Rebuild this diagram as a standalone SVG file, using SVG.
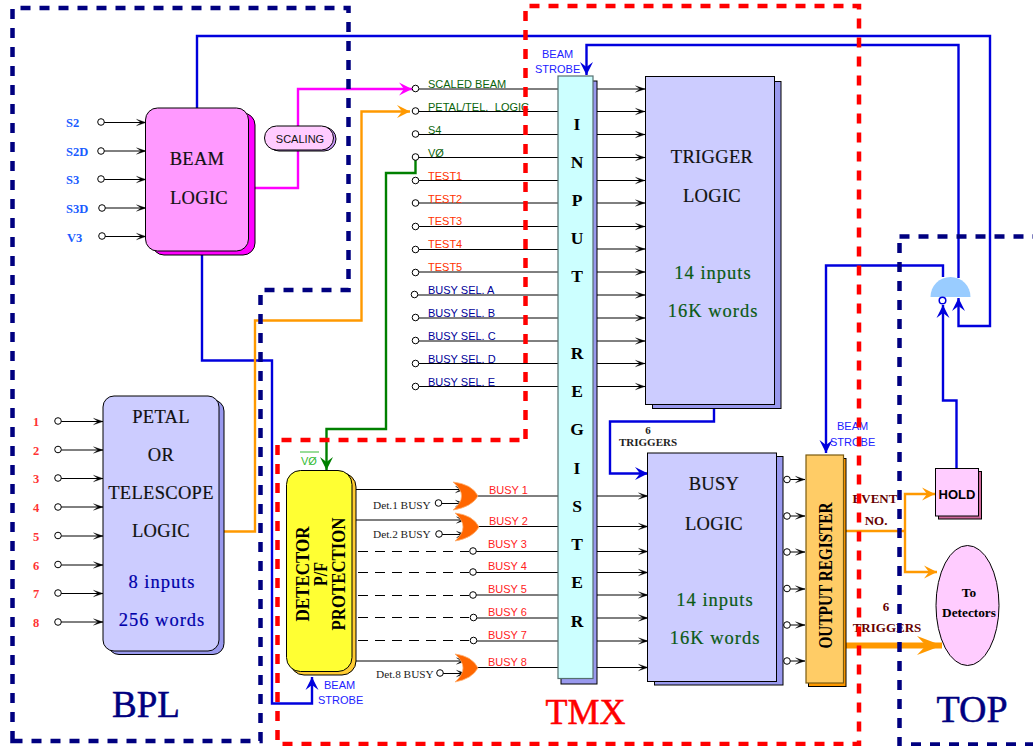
<svg xmlns="http://www.w3.org/2000/svg" width="1033" height="746" viewBox="0 0 1033 746">
<defs>
<marker id="a" markerUnits="userSpaceOnUse" markerWidth="14" markerHeight="10" refX="12" refY="5" orient="auto"><path d="M2.500,1.800 L12,5 L2.500,8.200 L7,5z" fill="#000" stroke="#000" stroke-width=".3"/></marker>
<marker id="ab" markerUnits="userSpaceOnUse" markerWidth="18" markerHeight="18" refX="16" refY="9" orient="auto"><path d="M3,2.500 L16,9 L3,15.500 L8,9z" fill="#0000dd"/></marker>
<marker id="ao" markerUnits="userSpaceOnUse" markerWidth="18" markerHeight="18" refX="16" refY="9" orient="auto"><path d="M3,2.500 L16,9 L3,15.500 L8,9z" fill="#ff9900"/></marker>
<marker id="am" markerUnits="userSpaceOnUse" markerWidth="18" markerHeight="18" refX="16" refY="9" orient="auto"><path d="M3,2.500 L16,9 L3,15.500 L8,9z" fill="#ff00ff"/></marker>
<marker id="ag" markerUnits="userSpaceOnUse" markerWidth="18" markerHeight="18" refX="16" refY="9" orient="auto"><path d="M3,2.500 L16,9 L3,15.500 L8,9z" fill="#008000"/></marker>
<marker id="abig" markerUnits="userSpaceOnUse" markerWidth="30" markerHeight="24" refX="28" refY="12" orient="auto"><path d="M3,2.500 L28,12 L3,21.500 L12,12z" fill="#ff9900"/></marker>
</defs>
<style>
.t{fill:none;stroke:#000;stroke-width:1}
.ar{marker-end:url(#a)}
.d{stroke-dasharray:10 7}
.c{fill:#fff;stroke:#000;stroke-width:1}
.b{fill:none;stroke:#0000dd;stroke-width:2.4}
.o{fill:none;stroke:#ff9900;stroke-width:2.4}
.box{stroke:#000;stroke-width:1}
.or{fill:#ff6600;stroke:#ffb070;stroke-width:.8}
text{font-family:"Liberation Serif",serif}
.s{font-family:"Liberation Sans",sans-serif;font-size:11px}
.m{text-anchor:middle}
.big{font-size:18.5px;fill:#111;stroke:#111;stroke-width:.2;text-anchor:middle;letter-spacing:.3px}
.gn{font-size:18.5px;fill:#0a5a14;stroke:#0a5a14;stroke-width:.2;text-anchor:middle;letter-spacing:1px}
.bn{font-size:18.5px;fill:#0000aa;stroke:#0000aa;stroke-width:.2;text-anchor:middle;letter-spacing:1px}
.sl{font-weight:bold;font-size:12.5px;fill:#1a5cff}
.num{font-weight:bold;font-size:12.5px;fill:#ff3333}
.lt{font-weight:bold;font-size:17.5px;fill:#000;text-anchor:middle}
.g{fill:#0a640a}.r{fill:#ff3300}.n{fill:#000099}.bs{fill:#ff2222}
.st{fill:#2222ff}
.det{font-size:11.300px;fill:#222}
.mr{font-weight:bold;font-size:13px;fill:#660000;text-anchor:middle}
.fr{text-anchor:middle;stroke-width:.5}
.blf{fill:none;stroke:#000080;stroke-width:4.5;stroke-dasharray:10 9}
.rdf{fill:none;stroke:#ff0000;stroke-width:4.5;stroke-dasharray:10 9}
.rot{font-weight:bold;text-anchor:middle}
</style>

<g id="connectors">
<path class="b" d="M197,108V36H990V326H958.500V298" marker-end="url(#ab)"/>
<path class="b" d="M958.500,278V45H586.500V75" marker-end="url(#ab)"/>
<path class="b" d="M943,277V265.500H826V453" marker-end="url(#ab)"/>
<path class="b" d="M956.500,468V400.500H943V305" marker-end="url(#ab)"/>
<path class="b" d="M202,254V360.500H272V703.500H312V677" marker-end="url(#ab)"/>
<path class="b" d="M714,408V421.500H610V473.500H648" marker-end="url(#ab)"/>
<path d="M255,188H298V89H412" fill="none" stroke="#ff00ff" stroke-width="2.400" marker-end="url(#am)"/>
<path class="o" d="M224,531.500H255V320.500H361.500V111.500H410" marker-end="url(#ao)"/>
<path d="M415.500,160V173H386V429H326.500V470" fill="none" stroke="#008000" stroke-width="2.400" marker-end="url(#ag)"/>
<path class="o" d="M846,531H905"/>
<path class="o" d="M905,531V494H935" marker-end="url(#ao)"/>
<path class="o" d="M905,531V572H937" marker-end="url(#ao)"/>
<path d="M846,645.500H942" fill="none" stroke="#ff9900" stroke-width="6" marker-end="url(#abig)"/>

<g id="beam-inputs">
<path class="t ar" d="M104,122.500H146"/><path class="t ar" d="M104,151H146"/><path class="t ar" d="M104,179.500H146"/><path class="t ar" d="M105,208H146"/><path class="t ar" d="M105,236.500H146"/>
</g>
<g id="petal-inputs">
<path class="t ar" d="M61,421.500H103"/><path class="t ar" d="M61,450H103"/><path class="t ar" d="M61,478.500H103"/><path class="t ar" d="M61,507H103"/><path class="t ar" d="M61,536H103"/><path class="t ar" d="M61,565H103"/><path class="t ar" d="M61,593.500H103"/><path class="t ar" d="M61,622H103"/>
</g>
<g id="register-inputs">
<path class="t" d="M419,89H558"/><path class="t" d="M419,111.500H558"/><path class="t" d="M419,134.500H558"/><path class="t" d="M419,157.500H558"/><path class="t" d="M419,180.500H558"/><path class="t" d="M419,203H558"/><path class="t" d="M419,226.500H558"/><path class="t" d="M419,249.500H558"/><path class="t" d="M419,272H558"/><path class="t" d="M418,295H558"/><path class="t" d="M419,318H558"/><path class="t" d="M419,341H558"/><path class="t" d="M419,363.500H558"/><path class="t" d="M419,386.500H558"/>
</g>
<g id="trigger-inputs">
<path class="t ar" d="M597,89H645"/><path class="t ar" d="M597,111.500H645"/><path class="t ar" d="M597,134.500H645"/><path class="t ar" d="M597,157.500H645"/><path class="t ar" d="M597,180.500H645"/><path class="t ar" d="M597,203H645"/><path class="t ar" d="M597,226.500H645"/><path class="t ar" d="M597,249H645"/><path class="t ar" d="M597,272H645"/><path class="t ar" d="M597,295H645"/><path class="t ar" d="M597,318H645"/><path class="t ar" d="M597,341H645"/><path class="t ar" d="M597,363.500H645"/><path class="t ar" d="M597,386.500H645"/>
</g>
<g id="busy-inputs">
<path class="t ar" d="M597,496H648"/><path class="t ar" d="M597,526.500H648"/><path class="t ar" d="M597,551.500H648"/><path class="t ar" d="M597,572.500H648"/><path class="t ar" d="M597,595H648"/><path class="t ar" d="M597,618H648"/><path class="t ar" d="M597,641H648"/><path class="t ar" d="M597,667.500H648"/>
</g>
<g id="busy-lines">
<path class="t" d="M477,496H558"/><path class="t" d="M478,526.500H558"/><path class="t" d="M476,551.500H558"/><path class="t" d="M476,572.500H558"/><path class="t" d="M476,595H558"/><path class="t" d="M477,618H558"/><path class="t" d="M477,641H558"/><path class="t" d="M477,667.500H558"/>
<path class="t d" d="M358,551.500H469"/><path class="t d" d="M358,572.500H469"/><path class="t d" d="M358,595.500H469"/><path class="t d" d="M358,617.500H469"/><path class="t d" d="M358,640.500H469"/>
<path class="t ar" d="M356,489.500H465"/><path class="t ar" d="M442,503.500H465"/><path class="t ar" d="M356,520H466"/><path class="t ar" d="M442,534.500H466"/><path class="t ar" d="M356,661H466"/><path class="t ar" d="M443,673.500H466"/>
</g>
<g id="output-inputs">
<path class="t ar" d="M790,479.500H805"/><path class="t ar" d="M790,516H805"/><path class="t ar" d="M790,552H805"/><path class="t ar" d="M790,589H805"/><path class="t ar" d="M790,625H805"/><path class="t ar" d="M790,661H805"/>
</g>
</g>

<g id="terminals">
<circle class="c" cx="101" cy="122" r="3.300"/><circle class="c" cx="101" cy="151" r="3.300"/><circle class="c" cx="101" cy="179" r="3.300"/><circle class="c" cx="102" cy="208" r="3.300"/><circle class="c" cx="102" cy="236" r="3.300"/>
<circle class="c" cx="58" cy="421" r="3.300"/><circle class="c" cx="58" cy="449.500" r="3.300"/><circle class="c" cx="58" cy="478" r="3.300"/><circle class="c" cx="58" cy="507" r="3.300"/><circle class="c" cx="58" cy="535.500" r="3.300"/><circle class="c" cx="58" cy="564.500" r="3.300"/><circle class="c" cx="58" cy="593" r="3.300"/><circle class="c" cx="58" cy="622" r="3.300"/>
<circle class="c" cx="415.500" cy="88.500" r="3.300"/><circle class="c" cx="415.500" cy="111" r="3.300"/><circle class="c" cx="415.500" cy="134" r="3.300"/><circle class="c" cx="415.500" cy="157" r="3.300"/><circle class="c" cx="415.500" cy="180.500" r="3.300"/><circle class="c" cx="415.500" cy="203" r="3.300"/><circle class="c" cx="415.500" cy="226.500" r="3.300"/><circle class="c" cx="415.500" cy="249.500" r="3.300"/><circle class="c" cx="415.500" cy="272.500" r="3.300"/><circle class="c" cx="414.500" cy="294.500" r="3.300"/><circle class="c" cx="415.500" cy="317.500" r="3.300"/><circle class="c" cx="415.500" cy="340.500" r="3.300"/><circle class="c" cx="415.500" cy="363.500" r="3.300"/><circle class="c" cx="415.500" cy="386.500" r="3.300"/>
<circle class="c" cx="438.500" cy="503" r="3.300"/><circle class="c" cx="439" cy="534" r="3.300"/><circle class="c" cx="440" cy="673" r="3.300"/>
<circle class="c" cx="473" cy="551" r="3.300"/><circle class="c" cx="473" cy="572" r="3.300"/><circle class="c" cx="473" cy="595" r="3.300"/><circle class="c" cx="473.500" cy="617.500" r="3.300"/><circle class="c" cx="473.500" cy="640.500" r="3.300"/>
<circle class="c" cx="787" cy="479.500" r="3.300"/><circle class="c" cx="787" cy="516" r="3.300"/><circle class="c" cx="787" cy="552" r="3.300"/><circle class="c" cx="787" cy="588.500" r="3.300"/><circle class="c" cx="787" cy="625" r="3.300"/><circle class="c" cx="787" cy="661" r="3.300"/>
</g>

<g id="or-gates">
<path class="or" d="M453,482Q472,484 478,496Q472,507 453,510Q470,496 453,482z"/>
<path class="or" d="M455,513Q473,515 479,527Q473,538 455,541Q471,527 455,513z"/>
<path class="or" d="M455,654Q472,656 478,668Q472,679 455,682Q471,668 455,654z"/>
</g>

<g id="beam-logic">
<rect class="box" x="152" y="113" width="103" height="142" rx="12" fill="#ff00ff"/>
<rect class="box" x="145.500" y="108" width="103" height="143" rx="12" fill="#ff99ff"/>
<text class="big" x="197" y="165">BEAM</text><text class="big" x="199" y="204">LOGIC</text>
</g>
<g id="scaling">
<rect class="box" x="267" y="127" width="69" height="24" rx="12" fill="#cc99ff"/>
<rect class="box" x="264.500" y="126" width="69" height="24" rx="12" fill="#ffccff"/>
<text class="s m" x="300" y="143" fill="#111">SCALING</text>
</g>
<g id="petal-logic">
<rect class="box" x="108" y="400" width="116" height="254.500" rx="11" fill="#9999ee"/>
<rect class="box" x="103" y="396" width="116" height="255" rx="11" fill="#ccccff"/>
<text class="big" x="161" y="423">PETAL</text><text class="big" x="161" y="461">OR</text><text class="big" x="161" y="499">TELESCOPE</text><text class="big" x="161" y="537">LOGIC</text>
<text class="bn" x="162" y="588">8 inputs</text><text class="bn" x="162" y="626">256 words</text>
</g>
<g id="detector">
<rect class="box" x="290" y="473" width="66" height="202" rx="14" fill="#ffcc33"/>
<rect class="box" x="286.500" y="470.500" width="65.500" height="201" rx="14" fill="#ffff33"/>
<text transform="translate(309,574) rotate(-90)" class="rot" font-size="18.500" textLength="95" lengthAdjust="spacingAndGlyphs">DETECTOR</text>
<text transform="translate(327,574) rotate(-90)" class="rot" font-size="18.500" textLength="24" lengthAdjust="spacingAndGlyphs">P/F</text>
<text transform="translate(345,574) rotate(-90)" class="rot" font-size="18.500" textLength="113" lengthAdjust="spacingAndGlyphs">PROTECTION</text>
</g>
<g id="input-register">
<rect class="box" x="561" y="81" width="36" height="603" fill="#9999ee"/>
<rect x="558" y="76" width="35" height="602.500" fill="#ccffff" stroke="#557070" stroke-width="1.200"/>
<text class="lt" x="577" y="130">I</text><text class="lt" x="577" y="168">N</text><text class="lt" x="577" y="206">P</text><text class="lt" x="577" y="244">U</text><text class="lt" x="577" y="282">T</text><text class="lt" x="577" y="359">R</text><text class="lt" x="577" y="397">E</text><text class="lt" x="577" y="435">G</text><text class="lt" x="577" y="474">I</text><text class="lt" x="577" y="512">S</text><text class="lt" x="577" y="550">T</text><text class="lt" x="577" y="588">E</text><text class="lt" x="577" y="627">R</text>
</g>
<g id="trigger-logic">
<rect class="box" x="652.500" y="81.500" width="128.500" height="327" fill="#9999ee"/>
<rect class="box" x="645.500" y="76.500" width="129" height="328" fill="#ccccff"/>
<text class="big" x="712" y="163">TRIGGER</text><text class="big" x="712" y="202">LOGIC</text>
<text class="gn" x="713" y="279">14 inputs</text><text class="gn" x="713" y="317">16K words</text>
</g>
<g id="busy-logic">
<rect class="box" x="654.500" y="456.500" width="128.500" height="228.500" fill="#9999ee"/>
<rect class="box" x="647.500" y="453" width="129" height="228.500" fill="#ccccff"/>
<text class="big" x="714" y="490">BUSY</text><text class="big" x="714" y="530">LOGIC</text>
<text class="gn" x="715" y="606">14 inputs</text><text class="gn" x="715" y="644">16K words</text>
</g>
<g id="output-register">
<rect class="box" x="808.500" y="458.500" width="37.500" height="228" fill="#ff9900"/>
<rect x="806" y="455" width="37.500" height="228" fill="#ffcc66" stroke="#7a5a10" stroke-width="1.200"/>
<text transform="translate(832,575.500) rotate(-90)" class="rot" font-size="18" textLength="146" lengthAdjust="spacingAndGlyphs">OUTPUT REGISTER</text>
</g>
<g id="gate">
<path d="M930.500,297A20,20 0 0 1 970.500,297z" fill="#99ccff"/>
<circle cx="942.500" cy="300.500" r="3.300" fill="#fff" stroke="#0000dd" stroke-width="1.500"/>
</g>
<g id="hold">
<rect class="box" x="938.500" y="471.500" width="43" height="47.500" fill="#cc6699"/>
<rect class="box" x="935.500" y="468.500" width="43" height="47.500" fill="#ffccff"/>
<text class="m" x="957" y="499" style="font-family:'Liberation Sans',sans-serif" font-weight="bold" font-size="13">HOLD</text>
</g>
<g id="to-detectors">
<ellipse class="box" cx="967.500" cy="605.500" rx="31.500" ry="60" fill="#ffccff"/>
<text class="m" x="969" y="597" font-weight="bold" font-size="13.300">To</text><text class="m" x="969" y="617" font-weight="bold" font-size="13.300">Detectors</text>
</g>

<g id="labels">
<text class="sl" x="66" y="127">S2</text><text class="sl" x="66" y="156">S2D</text><text class="sl" x="66" y="184">S3</text><text class="sl" x="66" y="213">S3D</text><text class="sl" x="67" y="242">V3</text>
<text class="num" x="33" y="425.500">1</text><text class="num" x="33" y="454.500">2</text><text class="num" x="33" y="482.500">3</text><text class="num" x="33" y="511.500">4</text><text class="num" x="33" y="540.500">5</text><text class="num" x="33" y="569.500">6</text><text class="num" x="33" y="597.500">7</text><text class="num" x="33" y="626.500">8</text>
<text class="s g" x="428" y="88">SCALED BEAM</text><text class="s g" x="428" y="111">PETAL/TEL.<tspan dx="6.500">LOGIC</tspan></text><text class="s g" x="428" y="134">S4</text><text class="s g" x="428" y="157">VØ</text>
<text class="s r" x="428" y="180">TEST1</text><text class="s r" x="428" y="203">TEST2</text><text class="s r" x="428" y="225">TEST3</text><text class="s r" x="428" y="248">TEST4</text><text class="s r" x="428" y="271">TEST5</text>
<text class="s n" x="428" y="294">BUSY SEL. A</text><text class="s n" x="428" y="317">BUSY SEL. B</text><text class="s n" x="428" y="340">BUSY SEL. C</text><text class="s n" x="428" y="363">BUSY SEL. D</text><text class="s n" x="428" y="386">BUSY SEL. E</text>
<text class="s bs" x="489" y="494">BUSY 1</text><text class="s bs" x="489" y="525">BUSY 2</text><text class="s bs" x="488" y="548">BUSY 3</text><text class="s bs" x="488" y="570">BUSY 4</text><text class="s bs" x="488" y="593">BUSY 5</text><text class="s bs" x="488" y="616">BUSY 6</text><text class="s bs" x="488" y="639">BUSY 7</text><text class="s bs" x="488" y="666">BUSY 8</text>
<text class="det" x="373" y="509">Det.1 BUSY</text><text class="det" x="373" y="538">Det.2 BUSY</text><text class="det" x="376" y="678">Det.8 BUSY</text>
<text class="s st" x="542" y="58">BEAM</text><text class="s st" x="535" y="73">STROBE</text>
<text class="s st" x="324" y="689">BEAM</text><text class="s st" x="318" y="704">STROBE</text>
<text class="s st" x="837" y="430">BEAM</text><text class="s st" x="830" y="446">STROBE</text>
<text class="s" x="301" y="465" fill="#33bb33">VØ</text><path d="M300,452H319" stroke="#33bb33" stroke-width="1" fill="none"/>
<text class="m" x="648" y="434" font-weight="bold" font-size="11" fill="#222">6</text><text class="m" x="648" y="446" font-weight="bold" font-size="11" fill="#222">TRIGGERS</text>
<text class="mr" x="875" y="503">EVENT</text><text class="mr" x="876" y="525">NO.</text><text class="mr" x="886" y="611">6</text><text class="mr" x="887" y="632">TRIGGERS</text>
<text class="fr" x="146" y="716.500" font-size="37" fill="#000080" stroke="#000080">BPL</text><text class="fr" x="585.500" y="724" font-size="36" fill="#ff0000" stroke="#ff0000">TMX</text><text class="fr" x="972" y="722" font-size="38" fill="#000080" stroke="#000080">TOP</text>
</g>

<g id="frames">
<path class="blf" d="M12.500,741V8H348.500V290H260.500V741H12.500z"/>
<path class="rdf" d="M525.500,439V6H859V744H277.500V440H526z"/>
<path class="blf" d="M899.500,236.500H1033"/>
<path class="blf" d="M899.500,243V746"/>
<path class="blf" d="M911,744.500H1033"/>
</g>
</svg>
